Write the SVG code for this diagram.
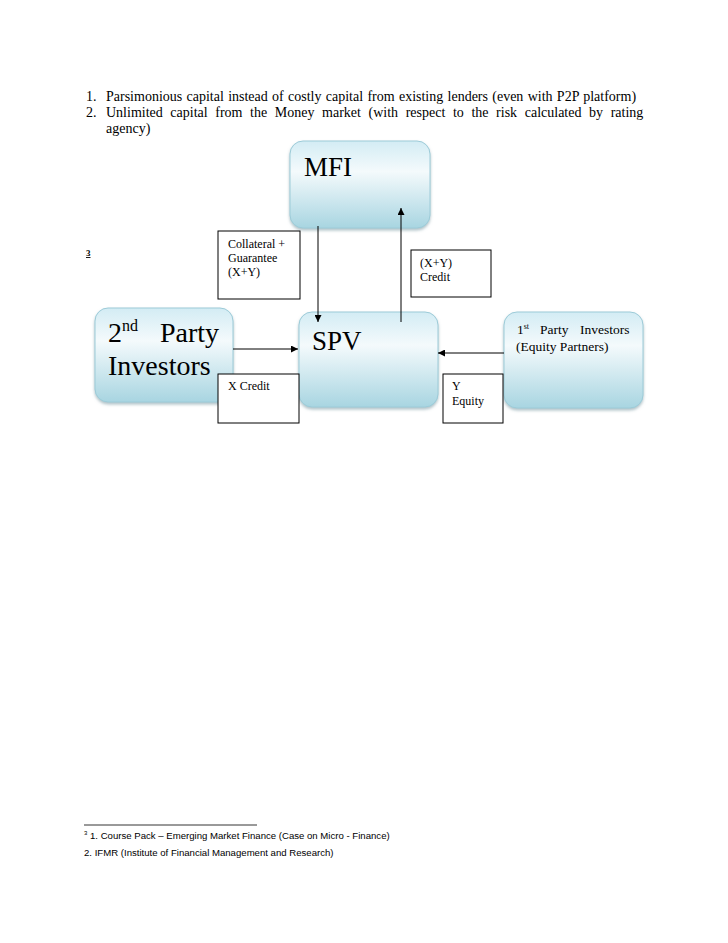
<svg xmlns="http://www.w3.org/2000/svg" width="728" height="943" viewBox="0 0 728 943">
<defs>
<linearGradient id="g" x1="0" y1="0" x2="0" y2="1">
<stop offset="0" stop-color="#d3ecf4"/>
<stop offset="0.35" stop-color="#f4fafc"/>
<stop offset="1" stop-color="#a8d5e1"/>
</linearGradient>
<filter id="sh" x="-10%" y="-10%" width="120%" height="125%">
<feDropShadow dx="0" dy="2" stdDeviation="1.5" flood-color="#7a9aa3" flood-opacity="0.6"/>
</filter>
<marker id="ah" viewBox="0 0 10 10" refX="10" refY="5" markerWidth="7" markerHeight="7" markerUnits="userSpaceOnUse" orient="auto">
<path d="M0,0 L10,5 L0,10 z" fill="#000"/>
</marker>
</defs>
<style>
.node{fill:url(#g);stroke:#9ccbd8;stroke-width:1;filter:url(#sh)}
.lbl{fill:#fff;stroke:#000;stroke-width:1}
.t{font-family:"Liberation Serif","Times New Roman",serif;fill:#000}
.s{font-size:12px}
.big{font-size:27px}
.body{font-size:14px}
.fn{font-family:"Liberation Sans",sans-serif;font-size:9.6px;fill:#000}
.c{stroke:#000;stroke-width:1;fill:none;marker-end:url(#ah)}
</style>
<rect width="728" height="943" fill="#fff"/>
<g id="intro">
<text class="t body" x="86" y="101">1.</text>
<text class="t body" x="106" y="101" word-spacing="0.8">Parsimonious capital instead of costly capital from existing lenders (even with P2P platform)</text>
<text class="t body" x="86" y="117">2.</text>
<text class="t body" x="106" y="117" word-spacing="4.1">Unlimited capital from the Money market (with respect to the risk calculated by rating</text>
<text class="t body" x="106" y="133">agency)</text>
</g>
<g id="fnref"><text class="t" x="86" y="256" font-size="9" font-weight="bold" text-decoration="underline">3</text></g>
<g id="mfi">
<rect class="node" x="290" y="141" width="140" height="87" rx="13"/>
<text class="t big" x="304" y="176">MFI</text>
</g>
<g id="spv">
<rect class="node" x="299" y="312" width="139" height="95" rx="13"/>
<text class="t big" x="312" y="350">SPV</text>
</g>
<g id="party2">
<rect class="node" x="95" y="308" width="138" height="94" rx="13"/>
<text class="t" font-size="28" x="108" y="342">2<tspan font-size="16" dy="-11">nd</tspan><tspan dy="11" x="160">Party</tspan></text>
<text class="t" font-size="28" x="108" y="375">Investors</text>
</g>
<g id="party1">
<rect class="node" x="504" y="312" width="139" height="96" rx="13"/>
<text class="t" font-size="13.5" x="517" y="334">1<tspan font-size="8" dy="-5">st</tspan><tspan dy="5" x="540">Party</tspan><tspan x="580">Investors</tspan></text>
<text class="t" font-size="13.5" x="516" y="351">(Equity Partners)</text>
</g>
<g id="collateral">
<rect class="lbl" x="218" y="231" width="82" height="68"/>
<text class="t s" x="228" y="248">Collateral  +</text>
<text class="t s" x="228" y="262">Guarantee</text>
<text class="t s" x="228" y="276">(X+Y)</text>
</g>
<g id="xycredit">
<rect class="lbl" x="411" y="250" width="80" height="47"/>
<text class="t s" x="420" y="267">(X+Y)</text>
<text class="t s" x="420" y="281">Credit</text>
</g>
<g id="xcredit">
<rect class="lbl" x="218" y="374" width="81" height="49"/>
<text class="t s" x="228" y="390">X Credit</text>
</g>
<g id="yequity">
<rect class="lbl" x="443" y="374" width="60" height="49"/>
<text class="t s" x="452" y="390">Y</text>
<text class="t s" x="452" y="405">Equity</text>
</g>
<g id="connectors">
<line class="c" x1="318" y1="226" x2="318" y2="322"/>
<line class="c" x1="401" y1="322" x2="401" y2="208"/>
<line x1="233" y1="349" x2="298" y2="349" class="c"/>
<line x1="504" y1="353" x2="438" y2="353" class="c"/>
</g>
<g id="footnote">
<line x1="84" y1="825" x2="257" y2="825" stroke="#000" stroke-width="0.8"/>
<text class="fn" x="84" y="839"><tspan font-size="6" dy="-4">3</tspan><tspan dy="4"> 1. Course Pack – Emerging Market Finance (Case on Micro - Finance)</tspan></text>
<text class="fn" x="84" y="856">2. IFMR (Institute of Financial Management and Research)</text>
</g>
</svg>
